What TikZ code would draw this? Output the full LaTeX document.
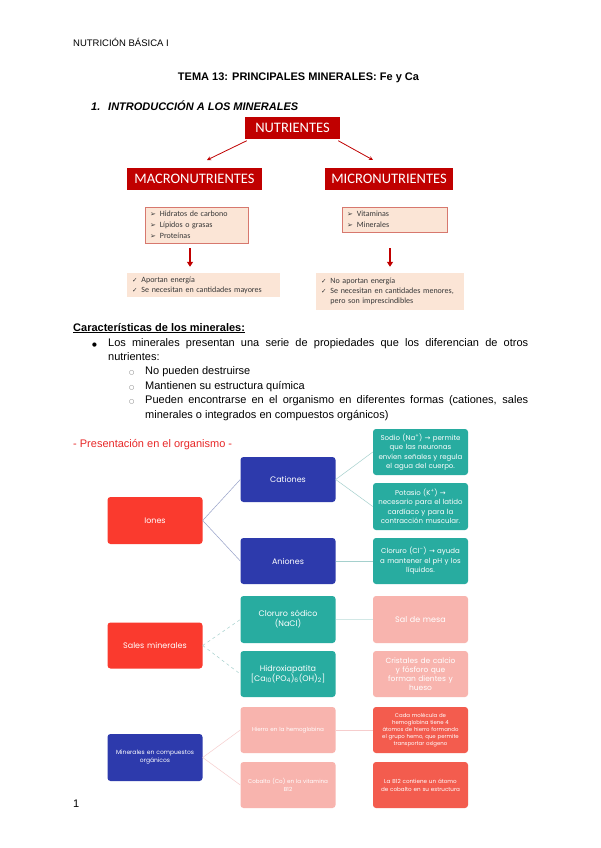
\documentclass[tikz,border=0pt]{standalone}
\usepackage{fontspec}
\setmainfont{Liberation Sans}
\newfontfamily\calib{Carlito}
\newfontfamily\gothic{Poppins}
\newfontfamily\dejavu{DejaVu Sans}
\usetikzlibrary{arrows.meta}

\definecolor{nutred}{RGB}{192,0,0}
\definecolor{peach}{RGB}{251,229,214}
\definecolor{listline}{RGB}{215,120,110}
\definecolor{txtgray}{RGB}{55,55,55}
\definecolor{ionred}{RGB}{250,58,46}
\definecolor{navy}{RGB}{45,58,172}
\definecolor{tealbx}{RGB}{40,172,160}
\definecolor{pinkbx}{RGB}{248,180,174}
\definecolor{coral}{RGB}{243,92,78}
\definecolor{lnkblue}{RGB}{150,160,200}
\definecolor{lnkteal}{RGB}{165,208,205}
\definecolor{lnkpink}{RGB}{246,205,205}
\definecolor{presred}{RGB}{232,40,40}
\definecolor{dotgray}{RGB}{110,110,110}

\newcommand{\fsz}[2]{\fontsize{#1}{#2}\selectfont}
\newcommand{\blt}{{\dejavu\fontsize{7}{11}\selectfont ➢}\hspace{4pt}}
\newcommand{\chk}{{\dejavu\fontsize{6.5}{10}\selectfont ✓}\hspace{4pt}}
\newcommand{\rarr}{{\dejavu →}}

\begin{document}
\begin{tikzpicture}[x=1pt,y=-1pt,>=Stealth,
  body/.style={font=\fsz{11}{14.4},inner sep=0pt,anchor=base west},
  hbox/.style={fill=nutred,text=white,font=\calib\fsz{14.5}{16},inner sep=0pt,minimum height=21pt},
  lbox/.style={fill=peach,draw=listline,line width=0.4pt,inner xsep=5pt,inner ysep=0pt,
    font=\calib\fsz{8}{11},text=txtgray,align=left},
  obox/.style={fill=peach,inner xsep=5pt,inner ysep=0pt,font=\calib\fsz{8}{10},text=txtgray,align=left},
  narr/.style={nutred,line width=0.8pt,-{Stealth[length=4pt,width=4pt]}},
  darr/.style={nutred,line width=1.6pt,-{Triangle[length=5pt,width=6pt]}},
  sa/.style={rounded corners=3pt,inner xsep=3pt,inner ysep=0pt,align=center,text width=89pt,
    text=white,font=\gothic\fsz{8}{10}},
  lnk/.style={line width=0.5pt},
]

%% Page
\useasboundingbox[fill=white] (0,0) rectangle (600,848);

%% Layout parameters
\def\bh{46}      % box height (lower diagram)
\def\colA{155}   % first column
\def\colB{288}   % second column
\def\colC{420.5} % third column

%% ---- Header and titles ----
\node[body,font=\fsz{9.5}{11}] (hdr) at (73,47) {NUTRICIÓN BÁSICA I};
\node[body,anchor=base,font=\bfseries\fsz{11}{14}] (title) at (298.5,81)
  {TEMA 13: PRINCIPALES MINERALES: Fe y Ca};
\node[body,font=\bfseries\itshape\fsz{11}{14}] (secnum) at (91,111) {1.};
\node[body,font=\bfseries\itshape\fsz{11}{14}] (sec) at (108,111) {INTRODUCCIÓN A LOS MINERALES};

%% ================================================================
%%  Nutrientes
%% ================================================================
\node[hbox,minimum width=95pt] (nutr) at (292.5,128) {NUTRIENTES};
\node[hbox,minimum width=135pt,minimum height=22pt] (macro) at (194.5,179) {MACRONUTRIENTES};
\node[hbox,minimum width=128pt,minimum height=22pt] (micro) at (389,179) {MICRONUTRIENTES};

\coordinate (macroin) at (207,160);
\coordinate (microin) at (373,160);
\draw[narr] ([shift={(2,2)}]nutr.south west) -- (macroin);
\draw[narr] ([shift={(-2,2)}]nutr.south east) -- (microin);

\node[lbox,text width=93pt,minimum height=36pt] (macrolist) at (196.5,225)
  {\blt Hidratos de carbono\\ \blt Lípidos o grasas\\ \blt Proteínas};
\node[lbox,text width=95pt,minimum height=25pt] (microlist) at (394.5,219.5)
  {\blt Vitaminas\\ \blt Minerales};

\node[obox,text width=143pt,minimum height=24pt] (macroout) at (203.5,285)
  {\chk Aportan energía\\ \chk Se necesitan en cantidades mayores};
\node[obox,text width=138pt,minimum height=37pt] (microout) at (390,291.5)
  {\chk No aportan energía\\ \chk Se necesitan en cantidades menores,\\
   \phantom{\chk}pero son imprescindibles};

\coordinate (macroarr) at (190,0);
\coordinate (microarr) at (390,0);
\draw[darr,shorten <=5pt,shorten >=6pt] (macrolist.south -| macroarr) -- (macroout.north -| macroarr);
\draw[darr,shorten <=16pt,shorten >=6pt] (microlist.south -| microarr) -- (microout.north -| microarr);

%% ================================================================
%%  Caracteristicas
%% ================================================================
\node[body,font=\bfseries\fsz{11}{14.4}] (cartit) at (73,331) {\underline{Características de los minerales:}};

\node[body,font=\dejavu\fsz{5.5}{14.4}] (dot1) at (92,346) {●};
\node[body,text width=420pt,align=justify] (b1) at (108,346)
  {Los minerales presentan una serie de propiedades que los diferencian de otros\linebreak nutrientes:};

\node[body,font=\dejavu\fsz{6}{14.4},text=dotgray] (odot1) at (129,374.8) {○};
\node[body] (s1) at (145,374.8) {No pueden destruirse};
\node[body,font=\dejavu\fsz{6}{14.4},text=dotgray] (odot2) at (129,389.2) {○};
\node[body] (s2) at (145,389.2) {Mantienen su estructura química};
\node[body,font=\dejavu\fsz{6}{14.4},text=dotgray] (odot3) at (129,403.6) {○};
\node[body,text width=383pt,align=justify] (s3) at (145,403.6)
  {Pueden encontrarse en el organismo en diferentes formas (cationes, sales\linebreak minerales o integrados en compuestos orgánicos)};

\node[body,text=presred] (pres) at (73,447) {- Presentación en el organismo -};

%% ================================================================
%%  Iones
%% ================================================================
\node[sa,fill=ionred,minimum height=47pt] (iones) at (\colA,520.5) {Iones};
\node[sa,fill=navy,minimum height=45pt] (cat) at (\colB,479.5) {Cationes};
\node[sa,fill=navy,minimum height=\bh] (ani) at (\colB,561) {Aniones};
\node[sa,fill=tealbx,minimum height=\bh,font=\gothic\fsz{7}{9.5}] (sodio) at (\colC,452)
  {Sodio (Na\textsuperscript{+}) \rarr{} permite\\ que las neuronas\\ envíen señales y regula\\ el agua del cuerpo.};
\node[sa,fill=tealbx,minimum height=47pt,font=\gothic\fsz{7}{9.5}] (potasio) at (\colC,506.5)
  {Potasio (K\textsuperscript{+}) \rarr{}\\ necesario para el latido\\ cardíaco y para la\\ contracción muscular.};
\node[sa,fill=tealbx,minimum height=\bh,font=\gothic\fsz{7}{9.5}] (clor) at (\colC,561)
  {Cloruro (Cl\textsuperscript{–}) \rarr{} ayuda\\ a mantener el pH y los\\ líquidos.};

\draw[lnk,lnkblue] (iones.east) -- (cat.west);
\draw[lnk,lnkblue] (iones.east) -- (ani.west);
\draw[lnk,lnkteal] (cat.east) -- (sodio.west);
\draw[lnk,lnkteal] (cat.east) -- (potasio.west);
\draw[lnk,lnkteal] (ani.east) -- (clor.west);

%% ================================================================
%%  Sales minerales
%% ================================================================
\node[sa,fill=ionred,minimum height=\bh] (sales) at (\colA,645.5) {Sales minerales};
\node[sa,fill=tealbx,minimum height=47pt] (nacl) at (\colB,619.5) {Cloruro sódico\\ (NaCl)};
\node[sa,fill=tealbx,minimum height=\bh] (hidrox) at (\colB,674)
  {Hidroxiapatita\\ {[}Ca\textsubscript{10}(PO\textsubscript{4})\textsubscript{6}(OH)\textsubscript{2}{]}};
\node[sa,fill=pinkbx,minimum height=47pt] (salmesa) at (\colC,619.5) {Sal de mesa};
\node[sa,fill=pinkbx,minimum height=\bh,font=\gothic\fsz{7.5}{9}] (crist) at (\colC,674)
  {Cristales de calcio\\ y fósforo que\\ forman dientes y\\ hueso};

\draw[lnk,lnkteal,dashed] (sales.east) -- (nacl.west);
\draw[lnk,lnkteal,dashed] (sales.east) -- (hidrox.west);
\draw[lnk,lnkteal!50] (nacl.east) -- (salmesa.west);

%% ================================================================
%%  Minerales en compuestos organicos
%% ================================================================
\node[sa,fill=navy,minimum height=47pt,font=\gothic\fsz{6}{8}] (minorg) at (\colA,757.5)
  {Minerales en compuestos\\ orgánicos};
\node[sa,fill=pinkbx,minimum height=\bh,font=\gothic\fsz{5.6}{7.5}] (hierro) at (\colB,730)
  {Hierro en la hemoglobina};
\node[sa,fill=pinkbx,minimum height=\bh,font=\gothic\fsz{5.6}{7.5}] (cobalto) at (\colB,785)
  {Cobalto (Co) en la vitamina\\ B12};
\node[sa,fill=coral,minimum height=\bh,font=\gothic\fsz{5.4}{7}] (hemo) at (\colC,730)
  {Cada molécula de\\ hemoglobina tiene 4\\ átomos de hierro formando\\ el grupo hemo, que permite\\ transportar oxígeno};
\node[sa,fill=coral,minimum height=\bh,font=\gothic\fsz{5.6}{8}] (b12) at (\colC,785)
  {La B12 contiene un átomo\\ de cobalto en su estructura};

\draw[lnk,lnkpink] (minorg.east) -- (hierro.west);
\draw[lnk,lnkpink] (minorg.east) -- (cobalto.west);
\draw[lnk,lnkpink] (hierro.east) -- (hemo.west);

%% ---- Page number ----
\node[body] (pnum) at (73,807) {1};

\end{tikzpicture}
\end{document}
